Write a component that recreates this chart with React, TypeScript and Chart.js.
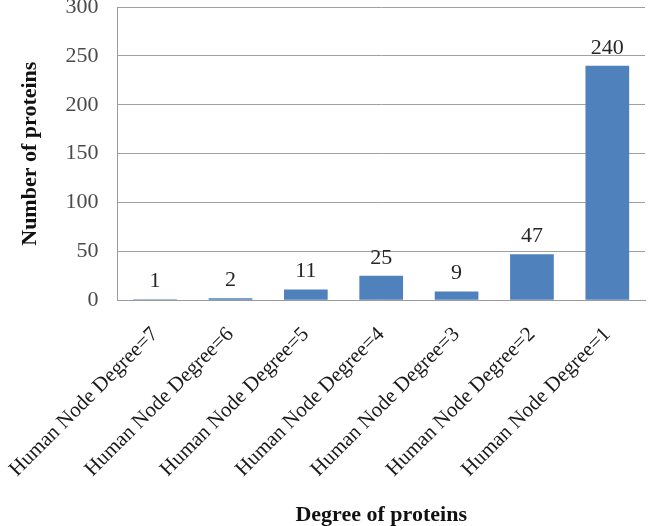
import React, { useEffect, useRef } from "react";
import { Chart, registerables } from "chart.js";

Chart.register(...registerables);

const categories = [
  "Human Node Degree=7",
  "Human Node Degree=6",
  "Human Node Degree=5",
  "Human Node Degree=4",
  "Human Node Degree=3",
  "Human Node Degree=2",
  "Human Node Degree=1",
];
const counts = [1, 2, 11, 25, 9, 47, 240];
const yMin = 0;
const yMax = 300;
const yStep = 50;

const FONT = "'Liberation Serif', 'Times New Roman', serif";

const valueLabels = {
  id: "valueLabels",
  afterDatasetsDraw(chart: any) {
    const ctx = chart.ctx;
    const meta = chart.getDatasetMeta(0);
    ctx.save();
    ctx.font = `22px ${FONT}`;
    ctx.fillStyle = "#262626";
    ctx.textAlign = "center";
    ctx.textBaseline = "alphabetic";
    meta.data.forEach((bar: any, i: number) => {
      ctx.fillText(String(counts[i]), bar.x, bar.y - 12);
    });
    ctx.restore();
  },
};

export default function App() {
  const ref = useRef<HTMLCanvasElement | null>(null);
  useEffect(() => {
    if (!ref.current) return;
    const chart = new Chart(ref.current, {
      type: "bar",
      data: {
        labels: categories,
        datasets: [
          {
            data: counts,
            backgroundColor: "#4F81BD",
            borderWidth: 0,
            barPercentage: 0.58,
            categoryPercentage: 1,
          },
        ],
      },
      options: {
        animation: false,
        responsive: false,
        maintainAspectRatio: false,
        layout: { padding: { left: 17, right: 5, top: 0, bottom: 0 } },
        plugins: {
          legend: { display: false },
          tooltip: { enabled: false },
        },
        scales: {
          x: {
            grid: {
              display: true,
              drawOnChartArea: false,
              drawTicks: true,
              tickLength: 22,
              tickColor: "rgba(0,0,0,0)",
            },
            border: { display: true, color: "#9a9a9a", width: 1 },
            ticks: {
              color: "#1a1a1a",
              font: { family: FONT, size: 21 },
              maxRotation: 45,
              minRotation: 45,
              autoSkip: false,
              padding: 0,
            },
            title: {
              display: true,
              text: "Degree of proteins",
              color: "#111",
              font: { family: FONT, size: 22, weight: "bold", lineHeight: 1 },
              padding: { top: 22, bottom: 0 },
            },
          },
          y: {
            min: yMin,
            max: yMax,
            grid: {
              color: "#a0a0a0",
              drawTicks: true,
              tickLength: 19,
              tickColor: "rgba(0,0,0,0)",
            },
            border: { display: true, color: "#9a9a9a", width: 1 },
            ticks: {
              stepSize: yStep,
              color: "#4a4a4a",
              font: { family: FONT, size: 22, lineHeight: 0.65 },
              padding: 0,
            },
            title: {
              display: true,
              text: "Number of proteins",
              color: "#111",
              font: { family: FONT, size: 22, weight: "bold" },
              padding: { top: 0, bottom: 22 },
            },
          },
        },
      },
      plugins: [valueLabels],
    });
    return () => chart.destroy();
  }, []);
  return (
    <div style={{ position: "fixed", left: 0, top: 0, width: 650, height: 526, background: "#fff" }}>
      <canvas ref={ref} width={650} height={526} style={{ width: 650, height: 526 }} />
    </div>
  );
}
